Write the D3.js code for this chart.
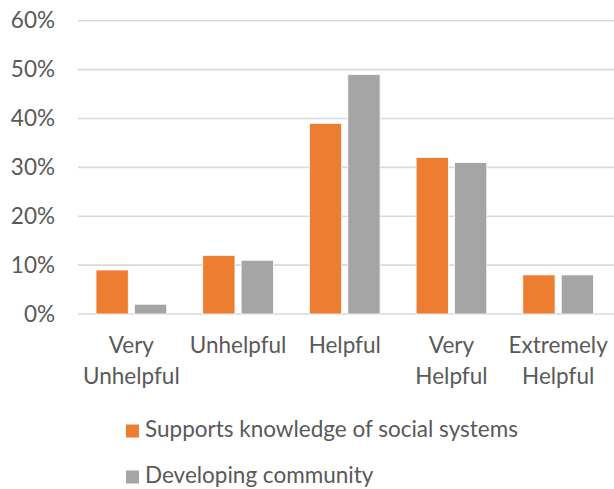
<!DOCTYPE html>
<html>
<head>
<meta charset="utf-8">
<script src="https://cdn.jsdelivr.net/npm/d3@7"></script>
<style>
  body { margin: 0; background: #fff; }
  text { font-family: Lato, "Open Sans", sans-serif; fill: #595959; }
</style>
</head>
<body>
<svg id="chart"></svg>
<script>
var categories = ["Very Unhelpful", "Unhelpful", "Helpful", "Very Helpful", "Extremely Helpful"];
var seriesNames = ["Supports knowledge of social systems", "Developing community"];
var supports = [0.09, 0.12, 0.39, 0.32, 0.08];
var community = [0.02, 0.11, 0.49, 0.31, 0.08];
var yTicks = [0, 0.1, 0.2, 0.3, 0.4, 0.5, 0.6];
var colors = ["#ED7D31", "#A5A5A5"];

var w = 614, h = 489;
var fontSize = 22.5;
var svg = d3.select("#chart").attr("width", w).attr("height", h);

var x = d3.scaleBand().domain(categories).range([78, 611.5]);
var xs = d3.scaleBand().domain([0, 1]).range([18, x.bandwidth() - 18]).paddingInner(0.16);
var y = d3.scaleLinear().domain([0, 0.6]).range([314, 20.7]);

// gridlines
svg.append("g").selectAll("line").data(yTicks).join("line")
    .attr("x1", 78).attr("x2", w)
    .attr("y1", d => y(d)).attr("y2", d => y(d))
    .attr("stroke", "#D9D9D9")
    .attr("stroke-width", 1.6);

// y tick labels
svg.append("g").selectAll("text").data(yTicks).join("text")
    .attr("x", 55)
    .attr("y", d => y(d) + 7.5)
    .attr("text-anchor", "end")
    .attr("font-size", fontSize)
    .text(d3.format(".0%"));

// bars
var rows = categories.map((c, i) => ({cat: c, vals: [supports[i], community[i]]}));
var groups = svg.append("g").selectAll("g").data(rows).join("g")
    .attr("transform", d => `translate(${x(d.cat)},0)`);
groups.selectAll("rect").data(d => d.vals).join("rect")
    .attr("x", (d, i) => xs(i))
    .attr("width", xs.bandwidth())
    .attr("y", d => y(d))
    .attr("height", d => y(0) - y(d))
    .attr("fill", (d, i) => colors[i])
    .attr("stroke", "#fff")
    .attr("stroke-width", 0.8);

// category labels
var lab = svg.append("g").selectAll("text").data(categories).join("text")
    .attr("text-anchor", "middle")
    .attr("font-size", fontSize)
    .attr("transform", d => `translate(${x(d) + x.bandwidth() / 2},353)`);
lab.selectAll("tspan").data(d => d.split(" ")).join("tspan")
    .attr("x", 0)
    .attr("y", (d, i) => i * 31)
    .text(d => d);

// legend
var leg = svg.append("g").selectAll("g").data(seriesNames).join("g")
    .attr("transform", (d, i) => `translate(126,${424.5 + i * 46})`);
leg.append("rect")
    .attr("width", 13).attr("height", 13)
    .attr("fill", (d, i) => colors[i]);
leg.append("text")
    .attr("x", 19).attr("y", 12.5)
    .attr("font-size", fontSize)
    .text(d => d);
</script>
</body>
</html>
